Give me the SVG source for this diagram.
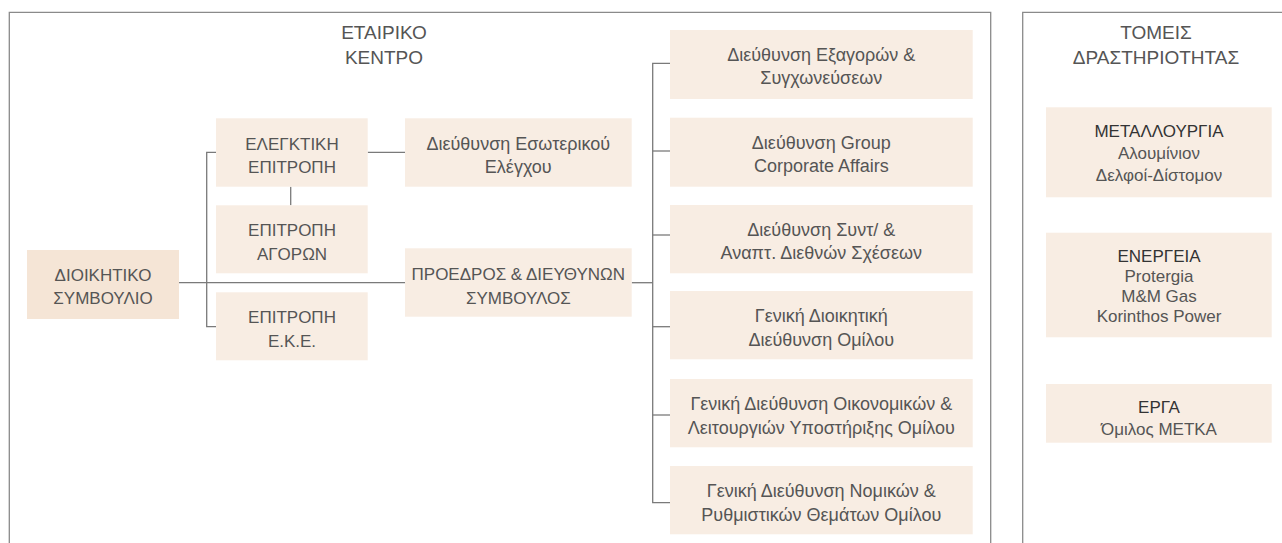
<svg xmlns="http://www.w3.org/2000/svg" width="1282" height="543" viewBox="0 0 1282 543">
<style>
.panel{fill:none;stroke:#8a8a8a;stroke-width:1.3}
.box{fill:#f8ede3}
.box-main{fill:#f5e5d6}
.t{font-family:"Liberation Sans",Arial,sans-serif;font-size:17px;fill:#555;text-anchor:middle}
.m{font-size:18px}
.h{font-family:"Liberation Sans",Arial,sans-serif;font-size:19px;fill:#555;text-anchor:middle}
.k{fill:#333}
.conn{fill:none;stroke:#7a7a7a;stroke-width:1.3}
</style>
<rect width="1282" height="543" fill="#fff"/>
<g id="panel-corporate">
<path class="panel" d="M9.3,560 V12.3 H990.7 V560"/>
<text class="h" x="384" y="39">ΕΤΑΙΡΙΚΟ</text>
<text class="h" x="384" y="64">ΚΕΝΤΡΟ</text>
</g>
<g id="panel-sectors">
<path class="panel" d="M1022.7,560 V12.3 H1290"/>
<text class="h" x="1156" y="39">ΤΟΜΕΙΣ</text>
<text class="h" x="1156" y="64">ΔΡΑΣΤΗΡΙΟΤΗΤΑΣ</text>
</g>
<g id="connectors">
<path class="conn" d="M179,282.7 H405"/>
<path class="conn" d="M216,152.3 H206.7 V326.7 H216"/>
<path class="conn" d="M367.7,152.3 H405"/>
<path class="conn" d="M290.7,186.7 V205.3"/>
<path class="conn" d="M631.7,282.7 H652.7"/>
<path class="conn" d="M670,63.3 H652.7 V502.7 H670"/>
<path class="conn" d="M652.7,151 H670"/>
<path class="conn" d="M652.7,235 H670"/>
<path class="conn" d="M652.7,326.7 H670"/>
<path class="conn" d="M652.7,415 H670"/>
</g>
<g id="node-board">
<rect class="box-main" x="27" y="250" width="152" height="69"/>
<text class="t" x="103" y="280.5">ΔΙΟΙΚΗΤΙΚΟ</text>
<text class="t" x="103" y="304">ΣΥΜΒΟΥΛΙΟ</text>
</g>
<g id="node-audit-committee">
<rect class="box" x="216" y="118.3" width="151.7" height="68.4"/>
<text class="t" x="292" y="149.5">ΕΛΕΓΚΤΙΚΗ</text>
<text class="t" x="292" y="173">ΕΠΙΤΡΟΠΗ</text>
</g>
<g id="node-procurement-committee">
<rect class="box" x="216" y="205.3" width="151.7" height="68"/>
<text class="t" x="292" y="236">ΕΠΙΤΡΟΠΗ</text>
<text class="t" x="292" y="259.5">ΑΓΟΡΩΝ</text>
</g>
<g id="node-csr-committee">
<rect class="box" x="216" y="292.3" width="151.7" height="68"/>
<text class="t" x="292" y="323">ΕΠΙΤΡΟΠΗ</text>
<text class="t" x="292" y="346.5">Ε.Κ.Ε.</text>
</g>
<g id="node-internal-audit">
<rect class="box" x="405" y="118.3" width="226.7" height="68.4"/>
<text class="t m" x="518.3" y="149.5">Διεύθυνση Εσωτερικού</text>
<text class="t m" x="518.3" y="173">Ελέγχου</text>
</g>
<g id="node-ceo">
<rect class="box" x="405" y="248.3" width="226.7" height="68.4"/>
<text class="t" x="518.3" y="280">ΠΡΟΕΔΡΟΣ &amp; ΔΙΕΥΘΥΝΩΝ</text>
<text class="t" x="518.3" y="303.5">ΣΥΜΒΟΥΛΟΣ</text>
</g>
<g id="node-ma">
<rect class="box" x="670" y="30" width="302.7" height="69"/>
<text class="t m" x="821.3" y="60.5">Διεύθυνση Εξαγορών &amp;</text>
<text class="t m" x="821.3" y="84">Συγχωνεύσεων</text>
</g>
<g id="node-corporate-affairs">
<rect class="box" x="670" y="117.7" width="302.7" height="69"/>
<text class="t m" x="821.3" y="148.5">Διεύθυνση Group</text>
<text class="t m" x="821.3" y="172">Corporate Affairs</text>
</g>
<g id="node-international">
<rect class="box" x="670" y="205" width="302.7" height="68.3"/>
<text class="t m" x="821.3" y="235.5">Διεύθυνση Συντ/ &amp;</text>
<text class="t m" x="821.3" y="259">Αναπτ. Διεθνών Σχέσεων</text>
</g>
<g id="node-general-admin">
<rect class="box" x="670" y="291" width="302.7" height="68.3"/>
<text class="t m" x="821.3" y="322">Γενική Διοικητική</text>
<text class="t m" x="821.3" y="345.5">Διεύθυνση Ομίλου</text>
</g>
<g id="node-finance">
<rect class="box" x="670" y="379" width="302.7" height="68.3"/>
<text class="t m" x="821.3" y="410">Γενική Διεύθυνση Οικονομικών &amp;</text>
<text class="t m" x="821.3" y="433.5">Λειτουργιών Υποστήριξης Ομίλου</text>
</g>
<g id="node-legal">
<rect class="box" x="670" y="466" width="302.7" height="68.3"/>
<text class="t m" x="821.3" y="497">Γενική Διεύθυνση Νομικών &amp;</text>
<text class="t m" x="821.3" y="520.5">Ρυθμιστικών Θεμάτων Ομίλου</text>
</g>
<g id="node-metallurgy">
<rect class="box" x="1046" y="107.3" width="225.7" height="90"/>
<text class="t k" x="1159" y="136.7">ΜΕΤΑΛΛΟΥΡΓΙΑ</text>
<text class="t" x="1159" y="158.5">Αλουμίνιον</text>
<text class="t" x="1159" y="180.5">Δελφοί-Δίστομον</text>
</g>
<g id="node-energy">
<rect class="box" x="1046" y="232.7" width="225.7" height="104.6"/>
<text class="t k" x="1159" y="261.7">ΕΝΕΡΓΕΙΑ</text>
<text class="t" x="1159" y="281.7">Protergia</text>
<text class="t" x="1159" y="301.7">M&amp;M Gas</text>
<text class="t" x="1159" y="321.7">Korinthos Power</text>
</g>
<g id="node-projects">
<rect class="box" x="1046" y="384" width="225.7" height="58.7"/>
<text class="t k" x="1159" y="413.3">ΕΡΓΑ</text>
<text class="t" x="1159" y="435">Όμιλος ΜΕΤΚΑ</text>
</g>
</svg>
